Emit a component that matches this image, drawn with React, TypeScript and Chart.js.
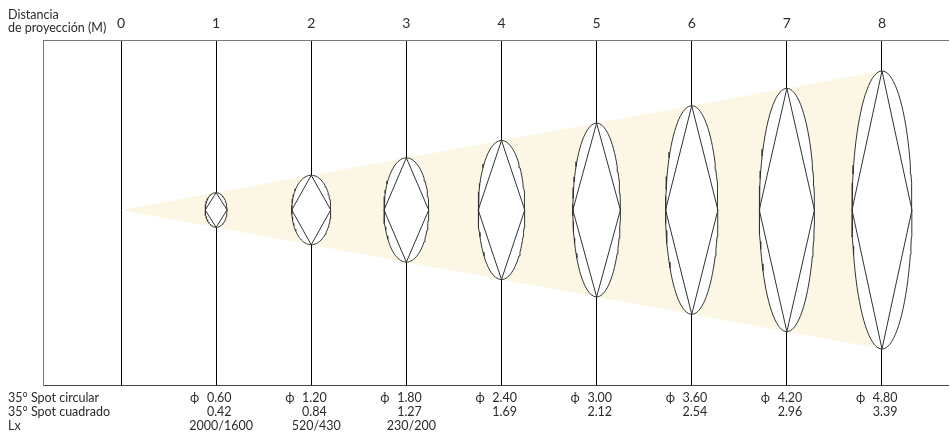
import React, { useEffect, useRef } from 'react';
import { Chart, registerables } from 'chart.js';

Chart.register(...registerables);

// ---- Data ----
const tickLabels = ['0', '1', '2', '3', '4', '5', '6', '7', '8'];
const distances = [1, 2, 3, 4, 5, 6, 7, 8];
const circularDiameter = [0.6, 1.2, 1.8, 2.4, 3.0, 3.6, 4.2, 4.8];
const squareSide = [0.42, 0.84, 1.27, 1.69, 2.12, 2.54, 2.96, 3.39];
const luxValues = ['2000/1600', '520/430', '230/200', '', '', '', '', ''];
// apparent depth of each beam section (drawn in distance units)
const sectionDepth = [0.23, 0.41, 0.47, 0.49, 0.5, 0.55, 0.58, 0.63];
const rowLabels = ['35° Spot circular', '35° Spot cuadrado', 'Lx'];
const axisTitle = ['Distancia', 'de proyección (M)'];
const phiSymbol = 'ϕ';

const FONT = 'Lato, "DejaVu Sans", sans-serif';
const TEXT = '#2b2b2b';
const CONE = '#FBF7E4';

const X_MIN = -0.82;
const X_MAX = 8.694;
const Y_MIN = -3.021;
const Y_MAX = 2.935;

function ellipsePoints(cx: number, rx: number, ry: number) {
  const pts: { x: number; y: number }[] = [];
  const n = 96;
  for (let i = 0; i <= n; i++) {
    const t = (i / n) * Math.PI * 2;
    pts.push({ x: cx + rx * Math.cos(t), y: ry * Math.sin(t) });
  }
  return pts;
}

const textPlugin = {
  id: 'tableText',
  afterDraw(chart: any) {
    const ctx = chart.ctx as CanvasRenderingContext2D;
    const xs = chart.scales.x;
    ctx.save();
    ctx.fillStyle = TEXT;
    ctx.font = `12.5px ${FONT}`;
    ctx.textBaseline = 'alphabetic';
    ctx.textAlign = 'left';
    ctx.fillText(axisTitle[0], 8, 19);
    ctx.fillText(axisTitle[1], 8, 32);
    const baselines = [402, 416, 430];
    rowLabels.forEach((l, i) => ctx.fillText(l, 8, baselines[i]));
    distances.forEach((d, i) => {
      const px = xs.getPixelForValue(d);
      ctx.textAlign = 'left';
      ctx.fillText(phiSymbol, px - 26, baselines[0]);
      ctx.textAlign = 'right';
      ctx.fillText(circularDiameter[i].toFixed(2), px + 15.5, baselines[0]);
      ctx.fillText(squareSide[i].toFixed(2), px + 15.5, baselines[1]);
      if (luxValues[i]) {
        ctx.textAlign = 'center';
        ctx.fillText(luxValues[i], px + 5, baselines[2]);
      }
    });
    ctx.restore();
  },
};

export default function App() {
  const ref = useRef<HTMLCanvasElement>(null);
  useEffect(() => {
    if (!ref.current) return;
    const lastD = distances[distances.length - 1];
    const lastR = circularDiameter[circularDiameter.length - 1] / 2;
    const datasets: any[] = [];
    datasets.push({
      data: [
        { x: 0, y: 0 },
        { x: lastD, y: lastR },
        { x: lastD, y: -lastR },
        { x: 0, y: 0 },
      ],
      showLine: true,
      fill: 'shape',
      backgroundColor: CONE,
      borderWidth: 0,
      borderColor: CONE,
      pointRadius: 0,
      order: 3,
    });
    distances.forEach((d, i) => {
      const rx = sectionDepth[i] / 2;
      const ry = circularDiameter[i] / 2;
      datasets.push({
        data: ellipsePoints(d, rx, ry),
        showLine: true,
        fill: 'shape',
        backgroundColor: '#ffffff',
        borderColor: '#333333',
        borderWidth: 1,
        pointRadius: 0,
        tension: 0,
        order: 2,
      });
      datasets.push({
        data: [
          { x: d, y: ry },
          { x: d + rx, y: 0 },
          { x: d, y: -ry },
          { x: d - rx, y: 0 },
          { x: d, y: ry },
        ],
        showLine: true,
        fill: false,
        borderColor: '#333333',
        borderWidth: 1,
        pointRadius: 0,
        order: 1,
      });
    });

    const chart = new Chart(ref.current, {
      type: 'scatter',
      data: { datasets },
      plugins: [textPlugin],
      options: {
        animation: false,
        responsive: false,
        devicePixelRatio: 1,
        events: [],
        layout: { padding: { left: 0, right: 2, top: 0, bottom: 0 } },
        plugins: { legend: { display: false }, tooltip: { enabled: false } },
        scales: {
          x: {
            type: 'linear',
            position: 'top',
            min: X_MIN,
            max: X_MAX,
            afterBuildTicks: (s: any) => {
              s.ticks = tickLabels.map((_, i) => ({ value: i }));
            },
            afterFit: (s: any) => {
              s.height = 40;
            },
            ticks: {
              callback: (v: any) => tickLabels[v] ?? '',
              color: TEXT,
              font: { family: FONT, size: 14 },
              padding: 8,
              maxRotation: 0,
              autoSkip: false,
            },
            grid: { color: '#000000', lineWidth: 1, drawTicks: false },
            border: { display: true, color: '#777777', width: 1 },
          },
          xb: {
            type: 'linear',
            axis: 'x',
            position: 'bottom',
            min: X_MIN,
            max: X_MAX,
            afterFit: (s: any) => {
              s.height = 50;
            },
            ticks: { display: false },
            grid: { display: false },
            border: { display: true, color: '#444444', width: 1 },
          },
          y: {
            type: 'linear',
            min: Y_MIN,
            max: Y_MAX,
            afterFit: (s: any) => {
              s.width = 43;
            },
            ticks: { display: false },
            grid: { display: false },
            border: { display: true, color: '#777777', width: 1 },
          },
        },
      } as any,
    });
    return () => chart.destroy();
  }, []);
  return (
    <div style={{ position: 'absolute', left: 0, top: 0, width: 950, height: 435, background: '#fff' }}>
      <canvas ref={ref} width={950} height={435} style={{ display: 'block' }} />
    </div>
  );
}
